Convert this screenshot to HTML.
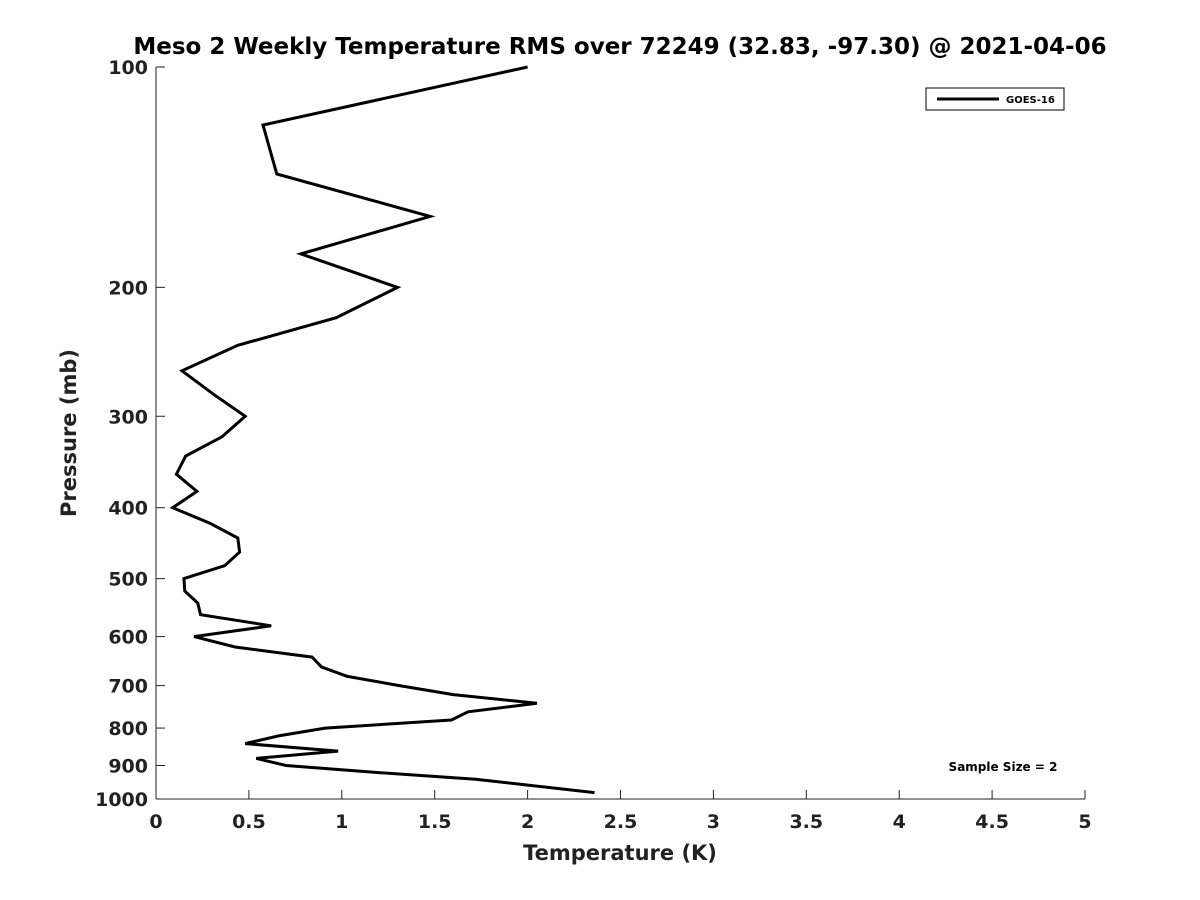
<!DOCTYPE html>
<html><head><meta charset="utf-8"><style>body{margin:0;background:#fff}svg{display:block;font-family:"DejaVu Sans","Liberation Sans",sans-serif;font-weight:bold}</style></head>
<body>
<svg id="c" width="1200" height="900">
<text x="620" y="54" text-anchor="middle" font-size="23" fill="#000">Meso 2 Weekly Temperature RMS over 72249 (32.83, -97.30) @ 2021-04-06</text>
<g id="axes"></g>
<text x="620" y="860" text-anchor="middle" font-size="21" fill="#222">Temperature (K)</text>
<text transform="translate(76,433) rotate(-90)" text-anchor="middle" font-size="21" fill="#222">Pressure (mb)</text>
<g>
<rect x="926" y="88" width="138" height="22" fill="#fff" stroke="#000" stroke-width="1"/>
<line x1="937" y1="99" x2="999" y2="99" stroke="#000" stroke-width="3"/>
<text x="1006" y="103" font-size="10" fill="#000">GOES-16</text>
</g>
<text x="1003" y="771" text-anchor="middle" font-size="12" fill="#000">Sample Size = 2</text>
</svg>
<script>
const temps=[2.0,0.576,0.65,1.475,0.78,1.30,0.97,0.44,0.14,0.31,0.48,0.355,0.16,0.11,0.22,0.09,0.29,0.44,0.45,0.37,0.15,0.155,0.225,0.24,0.62,0.205,0.425,0.84,0.89,1.03,1.31,1.6,2.05,1.68,1.59,0.91,0.66,0.48,0.98,0.54,0.70,1.19,1.72,2.36];
const pressures=[100,120,140,160,180,200,220,240,260,280,300,320,340,360,380,400,420,440,460,480,500,520,540,560,580,600,620,640,660,680,700,720,740,760,780,800,820,840,860,880,900,920,940,980];
const xTicks=[0,0.5,1,1.5,2,2.5,3,3.5,4,4.5,5];
const xTickLabels=["0","0.5","1","1.5","2","2.5","3","3.5","4","4.5","5"];
const yTicks=[100,200,300,400,500,600,700,800,900,1000];
const ns="http://www.w3.org/2000/svg";
const X0=156,X1=1085,Y0=67,Y1=799;
const sx=v=>X0+(X1-X0)*v/5;
const sy=p=>Y0+(Y1-Y0)*Math.log10(p/100);
const g=document.getElementById('axes');
function mk(t,a,par){const e=document.createElementNS(ns,t);for(const k in a)e.setAttribute(k,a[k]);(par||g).appendChild(e);return e;}
const xa=mk('line',{x1:X0,y1:Y1,x2:X1,y2:Y1,stroke:'#222','stroke-width':1});


const ya=mk('line',{x1:X0,y1:Y0,x2:X0,y2:Y1,stroke:'#222','stroke-width':1});


xTicks.forEach((v,i)=>{const x=sx(v);mk('line',{x1:x,y1:Y1,x2:x,y2:Y1-9,stroke:'#222'});
const t=mk('text',{x:x,y:Y1+29,'text-anchor':'middle','font-size':19,fill:'#222'});t.textContent=xTickLabels[i];

});
yTicks.forEach(p=>{const y=sy(p);mk('line',{x1:X0,y1:y,x2:X0+9,y2:y,stroke:'#222'});
const t=mk('text',{x:X0-8,y:y+7,'text-anchor':'end','font-size':19,fill:'#222'});t.textContent=p;

});
const pts=temps.map((v,i)=>sx(v).toFixed(1)+','+sy(pressures[i]).toFixed(1)).join(' ');
const line=mk('polyline',{points:pts,fill:'none',stroke:'#000','stroke-width':3,'stroke-linejoin':'miter'});


</script>
</body></html>
